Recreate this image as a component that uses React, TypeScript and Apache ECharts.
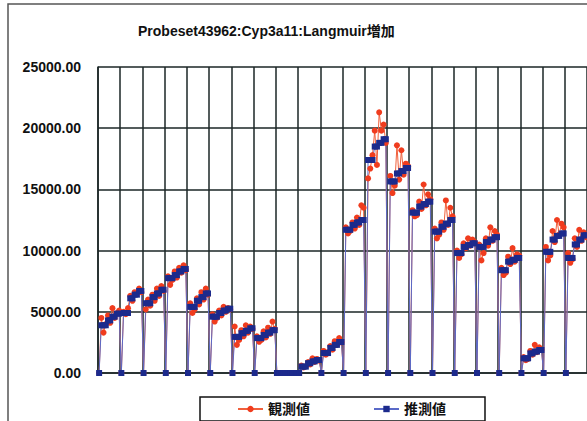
import { useEffect, useRef } from 'react';
import * as echarts from 'echarts';

const TITLE = 'Probeset43962:Cyp3a11:Langmuir増加';
const OBS_NAME = '観測値';
const EST_NAME = '推測値';
const Y_MIN = 0;
const Y_MAX = 25000;
const Y_STEP = 5000;
const POINTS_PER_GROUP = 10;

// Observed values, one row per sample group (each group starts from 0).
const observed: number[][] = [
  [0, 4500, 3300, 4000, 4700, 4100, 5300, 4500, 4900, 5100],
  [0, 5000, 4800, 5300, 6300, 5900, 6600, 6500, 6900, 6600],
  [0, 5200, 6000, 5500, 6400, 5900, 6900, 6300, 7100, 6700],
  [0, 7900, 7200, 7600, 8300, 7800, 8600, 8200, 8800, 8400],
  [0, 5700, 4900, 5200, 6100, 5600, 6600, 6000, 6900, 6400],
  [0, 4800, 4200, 4500, 5100, 4700, 5400, 5000, 5300, 5200],
  [0, 3800, 2300, 2700, 3500, 3000, 3900, 3300, 3800, 3600],
  [0, 3000, 2550, 2700, 3400, 2900, 3700, 3200, 4200, 3600],
  [0, 0, 0, 0, 0, 0, 0, 0, 0, 0],
  [0, 600, 450, 550, 900, 700, 1200, 900, 1150, 1000],
  [0, 1800, 1500, 1700, 2200, 1900, 2600, 2300, 2850, 2500],
  [0, 11900, 11400, 11600, 12300, 11800, 12700, 12100, 13700, 13500],
  [0, 15900, 16700, 17800, 19800, 17000, 21300, 19800, 20300, 18800],
  [0, 16100, 14700, 15300, 18600, 15800, 18200, 16200, 17100, 16900],
  [0, 13300, 12800, 12900, 14000, 13400, 15400, 13700, 14600, 14200],
  [0, 11800, 11000, 11300, 12300, 11700, 14100, 12100, 13500, 12800],
  [0, 10000, 9400, 9700, 10600, 10200, 11000, 10400, 10900, 10700],
  [0, 10500, 9200, 9800, 11000, 10400, 11900, 10800, 11600, 11300],
  [0, 8600, 8000, 8200, 9500, 8900, 10200, 9100, 9700, 9600],
  [0, 1300, 1050, 1150, 1800, 1500, 2300, 1700, 2100, 1900],
  [0, 10300, 9200, 9600, 11600, 10700, 12500, 11300, 12200, 11900],
  [0, 9800, 9000, 9300, 11000, 10300, 11700, 10800, 11500, 11100],
];

// Model estimates for the same groups.
const estimated: number[][] = [
  [0, 3900, 3900, 3900, 4300, 4300, 4600, 4600, 4850, 4850],
  [0, 4900, 4900, 4900, 6100, 6100, 6400, 6400, 6700, 6700],
  [0, 5700, 5700, 5700, 6200, 6200, 6500, 6500, 6800, 6800],
  [0, 7750, 7750, 7750, 8000, 8000, 8300, 8300, 8500, 8500],
  [0, 5400, 5400, 5400, 5900, 5900, 6200, 6200, 6500, 6500],
  [0, 4600, 4600, 4600, 4900, 4900, 5100, 5100, 5250, 5250],
  [0, 2950, 2950, 2950, 3250, 3250, 3450, 3450, 3650, 3650],
  [0, 2850, 2850, 2850, 3100, 3100, 3300, 3300, 3500, 3500],
  [0, 0, 0, 0, 0, 0, 0, 0, 0, 0],
  [0, 520, 520, 520, 800, 800, 950, 950, 1060, 1060],
  [0, 1630, 1630, 1630, 2050, 2050, 2300, 2300, 2530, 2530],
  [0, 11700, 11700, 11700, 12100, 12100, 12300, 12300, 12500, 12500],
  [0, 17400, 17400, 17400, 18500, 18500, 18800, 18800, 19100, 19100],
  [0, 15650, 15650, 15650, 16300, 16300, 16500, 16500, 16750, 16750],
  [0, 13100, 13100, 13100, 13600, 13600, 13800, 13800, 14000, 14000],
  [0, 11550, 11550, 11550, 11950, 11950, 12200, 12200, 12500, 12500],
  [0, 9800, 9800, 9800, 10300, 10300, 10450, 10450, 10600, 10600],
  [0, 10300, 10300, 10300, 10700, 10700, 10900, 10900, 11100, 11100],
  [0, 8400, 8400, 8400, 9100, 9100, 9250, 9250, 9400, 9400],
  [0, 1200, 1200, 1200, 1600, 1600, 1750, 1750, 1880, 1880],
  [0, 9900, 9900, 9900, 10900, 10900, 11200, 11200, 11400, 11400],
  [0, 9400, 9400, 9400, 10500, 10500, 10900, 10900, 11250, 11250],
];

const LATIN = '"Liberation Sans", Arial, sans-serif';
const MIXED = '"Liberation Sans", "Noto Sans CJK JP", sans-serif';
const GRID_COLOR = '#1b2626';

export default function App() {
  const ref = useRef<HTMLDivElement>(null);

  useEffect(() => {
    if (!ref.current) return;
    const chart = echarts.init(ref.current, undefined, { renderer: 'svg' });

    const obsFlat = observed.flat();
    const estFlat = estimated.flat();
    const categories = obsFlat.map((_, i) => String(i + 1));
    const atGroupStart = (index: number) => index % POINTS_PER_GROUP === 0;

    chart.setOption({
      animation: false,
      backgroundColor: '#ffffff',
      title: {
        text: TITLE,
        left: 133,
        top: 19,
        textStyle: { fontFamily: MIXED, fontSize: 14, fontWeight: 'bold', color: '#111' },
      },
      graphic: [
        {
          type: 'rect',
          shape: { x: 8, y: 4, width: 700, height: 600 },
          style: { fill: 'none', stroke: '#555', lineWidth: 1.5 },
          silent: true,
          z: -1,
        },
      ],
      legend: {
        left: 200,
        top: 397,
        padding: [5, 39, 5, 37],
        itemGap: 63,
        itemWidth: 25,
        itemHeight: 8,
        borderColor: '#111',
        borderWidth: 1.5,
        textStyle: { fontFamily: MIXED, fontSize: 14, fontWeight: 'bold', color: '#111' },
        data: [OBS_NAME, EST_NAME],
      },
      grid: { left: 98, right: 0, top: 67, bottom: 48, containLabel: false },
      xAxis: {
        type: 'category',
        data: categories,
        boundaryGap: true,
        axisLine: { show: true, lineStyle: { color: GRID_COLOR, width: 1.5 } },
        axisTick: { show: false },
        axisLabel: { show: false },
        splitLine: {
          show: true,
          interval: atGroupStart,
          lineStyle: { color: GRID_COLOR, width: 1.5 },
        },
      },
      yAxis: {
        type: 'value',
        min: Y_MIN,
        max: Y_MAX,
        interval: Y_STEP,
        axisLine: { show: true, lineStyle: { color: GRID_COLOR, width: 1.5 } },
        axisTick: { show: false },
        axisLabel: {
          margin: 17,
          fontFamily: LATIN,
          fontSize: 14,
          fontWeight: 'bold',
          color: '#111',
          formatter: (v: number) => v.toFixed(2),
        },
        splitLine: { show: true, lineStyle: { color: GRID_COLOR, width: 1.5 } },
      },
      series: [
        {
          name: OBS_NAME,
          type: 'line',
          data: obsFlat,
          symbol: 'circle',
          symbolSize: 6,
          showAllSymbol: true,
          itemStyle: { color: '#f03c1e' },
          lineStyle: { color: '#f0603c', width: 1 },
        },
        {
          name: EST_NAME,
          type: 'line',
          data: estFlat,
          symbol: 'rect',
          symbolSize: 6,
          showAllSymbol: true,
          itemStyle: { color: '#1c2a8c' },
          lineStyle: { color: '#5a6ac8', width: 1 },
        },
      ],
    });

    return () => chart.dispose();
  }, []);

  return (
    <div
      ref={ref}
      style={{ position: 'fixed', left: 0, top: 0, width: 587, height: 421 }}
    />
  );
}
